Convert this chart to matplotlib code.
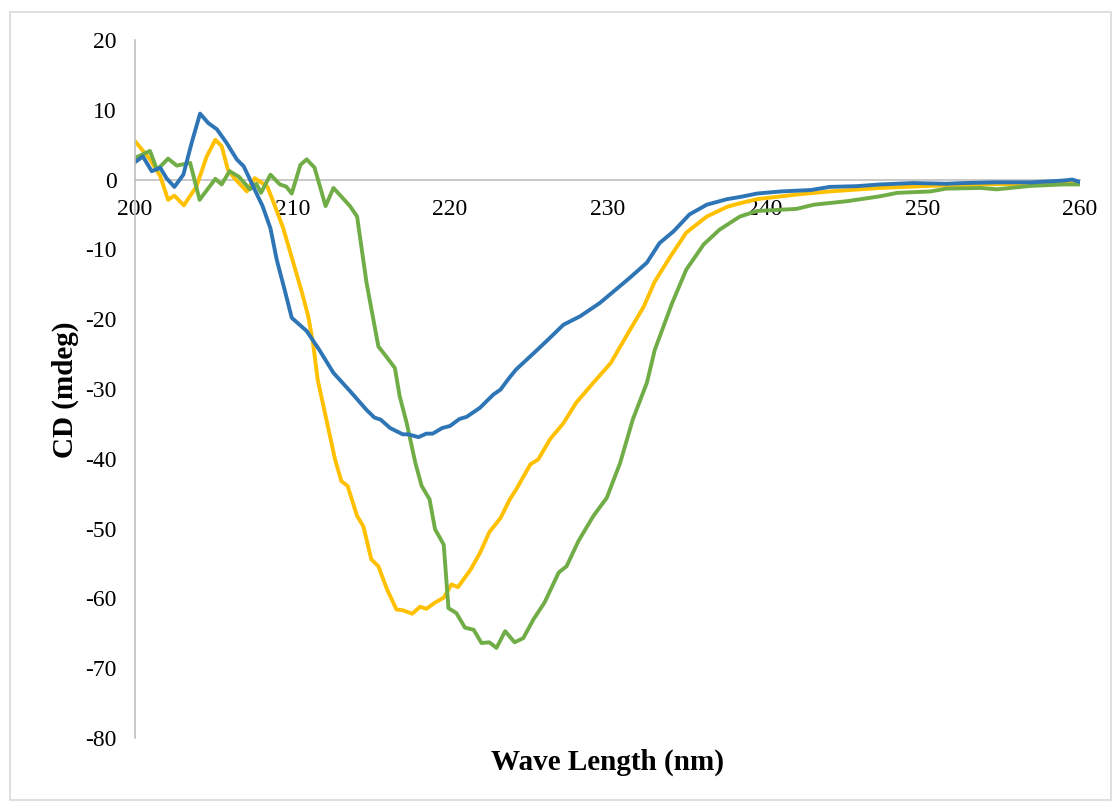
import matplotlib.pyplot as plt
from matplotlib.patches import Rectangle

plt.rcParams['font.family'] = ['Liberation Serif', 'DejaVu Serif']

# CD spectra, wavelength (nm) vs ellipticity (mdeg)
blue_x = [200.0, 200.5, 201.06, 201.6, 202.0, 202.5, 203.07, 203.6, 204.13, 204.65,
          205.2, 205.8, 206.46, 206.9, 207.3, 207.8, 208.1, 208.6, 209.0, 209.5,
          209.95, 210.3, 210.9, 211.7, 212.6, 213.65, 214.7, 215.2, 215.6, 216.2,
          217.0, 217.35, 218.0, 218.5, 218.9, 219.5, 220.0, 220.6, 221.05, 221.9,
          222.75, 223.2, 223.8, 224.2, 225.3, 226.1, 227.2, 228.25, 229.5, 230.4,
          231.4, 232.5, 233.3, 234.2, 235.2, 236.3, 237.6, 238.4, 239.5, 241.0,
          242.9, 244.1, 245.8, 247.3, 249.4, 251.5, 252.6, 254.7, 256.9, 258.9,
          259.5, 260.0]
blue_y = [2.5, 3.3, 1.2, 1.7, 0.2, -1.05, 0.7, 5.3, 9.45, 8.1,
          7.2, 5.3, 2.9, 1.9, 0.0, -2.4, -3.8, -7.0, -11.5, -15.8,
          -19.8, -20.5, -21.7, -24.4, -27.7, -30.3, -33.0, -34.1, -34.4, -35.6,
          -36.5, -36.5, -36.9, -36.4, -36.4, -35.6, -35.3, -34.3, -34.0, -32.7,
          -30.8, -30.1, -28.3, -27.2, -24.9, -23.2, -20.8, -19.6, -17.7, -16.0,
          -14.1, -11.9, -9.1, -7.4, -5.0, -3.6, -2.8, -2.5, -2.0, -1.7,
          -1.5, -1.05, -0.95, -0.7, -0.5, -0.6, -0.5, -0.4, -0.4, -0.15,
          0.0, -0.35]

yellow_x = [200.0, 200.95, 201.6, 202.1, 202.5, 203.1, 203.9, 204.55, 205.1, 205.5,
            205.9, 206.35, 207.1, 207.6, 208.4, 208.8, 209.4, 210.05, 210.6, 211.0,
            211.3, 211.6, 212.2, 212.7, 213.1, 213.5, 214.1, 214.5, 215.0, 215.45,
            216.0, 216.6, 217.0, 217.6, 218.1, 218.5, 219.05, 219.6, 220.1, 220.5,
            221.3, 221.9, 222.5, 223.2, 223.8, 224.2, 225.1, 225.6, 226.35, 227.2,
            228.0, 229.1, 230.2, 231.2, 232.3, 233.0, 234.0, 235.0, 236.3, 237.6,
            238.4, 239.5, 242.0, 244.1, 247.3, 250.5, 253.7, 256.9, 260.0]
yellow_y = [5.5, 2.9, 0.5, -2.9, -2.3, -3.7, -1.0, 3.3, 5.7, 4.8,
            1.4, 0.1, -1.7, 0.2, -1.0, -3.3, -6.9, -11.9, -16.2, -19.6,
            -23.4, -28.7, -34.9, -40.1, -43.2, -43.9, -48.2, -49.7, -54.4, -55.4,
            -58.7, -61.6, -61.7, -62.2, -61.2, -61.5, -60.6, -59.9, -58.0, -58.4,
            -55.9, -53.5, -50.5, -48.5, -45.8, -44.4, -40.8, -40.1, -37.2, -34.9,
            -32.0, -29.1, -26.3, -22.4, -18.2, -14.6, -11.0, -7.6, -5.3, -3.9,
            -3.4, -2.8, -2.15, -1.7, -1.2, -0.9, -0.7, -0.6, -0.5]

green_x = [200.0, 200.95, 201.4, 202.1, 202.65, 203.5, 204.1, 205.1, 205.5, 206.0,
           206.6, 207.3, 207.7, 208.0, 208.6, 209.2, 209.6, 209.95, 210.5, 210.9,
           211.4, 212.1, 212.6, 213.65, 214.1, 214.7, 215.45, 216.0, 216.5, 216.8,
           217.25, 217.8, 218.2, 218.7, 219.05, 219.6, 219.9, 220.4, 220.95, 221.5,
           222.0, 222.5, 222.95, 223.5, 224.1, 224.65, 225.3, 226.0, 226.9, 227.4,
           228.15, 229.1, 229.95, 230.8, 231.6, 232.5, 233.0, 234.1, 235.0, 236.1,
           237.1, 238.4, 239.5, 242.0, 243.1, 245.2, 247.3, 248.4, 250.5, 251.5,
           253.7, 254.7, 256.9, 258.9, 260.0]
green_y = [3.1, 4.1, 1.4, 3.0, 2.0, 2.4, -2.9, 0.1, -0.7, 1.2,
           0.4, -1.4, -0.6, -1.9, 0.7, -0.7, -1.0, -2.0, 2.1, 2.9,
           1.7, -3.8, -1.2, -3.8, -5.3, -14.8, -23.9, -25.5, -27.0, -31.0,
           -34.9, -40.6, -43.9, -45.8, -50.1, -52.3, -61.4, -62.1, -64.2, -64.5,
           -66.4, -66.3, -67.1, -64.7, -66.3, -65.7, -63.0, -60.6, -56.3, -55.4,
           -51.8, -48.2, -45.6, -40.6, -34.4, -29.1, -24.4, -17.7, -12.9, -9.3,
           -7.2, -5.3, -4.5, -4.2, -3.6, -3.1, -2.4, -1.9, -1.7, -1.3,
           -1.2, -1.4, -0.9, -0.7, -0.7]

xticks = [200, 210, 220, 230, 240, 250, 260]
yticks = [20, 10, 0, -10, -20, -30, -40, -50, -60, -70, -80]

fig = plt.figure(figsize=(11.13, 8.01), dpi=100)
ax = fig.add_axes([0.1213, 0.0787, 0.8491, 0.8714])

# chart area outline
fig.patches.append(Rectangle((10 / 1113, 0.001), 1101 / 1113, 788 / 801,
                             transform=fig.transFigure, fill=False,
                             edgecolor='#d9d9d9', linewidth=1.2))

lw = 2.8
style = dict(lw=lw, solid_joinstyle='round', solid_capstyle='round')
ax.plot(yellow_x, yellow_y, color='#FFC000', **style)
ax.plot(green_x, green_y, color='#70AD47', **style)
ax.plot(blue_x, blue_y, color='#2E75B6', **style)

ax.set_xlim(200, 260)
ax.set_ylim(-80, 20)

for s in ['top', 'right']:
    ax.spines[s].set_visible(False)
ax.spines['bottom'].set_position(('data', 0))
ax.spines['bottom'].set_color('#bfbfbf')
ax.spines['left'].set_color('#bfbfbf')
ax.spines['bottom'].set_linewidth(1.2)
ax.spines['left'].set_linewidth(1.2)
ax.spines['bottom'].set_zorder(0.5)

ax.set_xticks(xticks)
ax.set_xticklabels([str(t) for t in xticks])
ax.set_yticks(yticks)
ax.set_yticklabels([str(t) for t in yticks])
ax.tick_params(axis='x', length=0, pad=14, labelsize=17)
ax.tick_params(axis='y', length=0, pad=13, labelsize=17)

fig.text(0.5455, 1 - 762 / 801, 'Wave Length (nm)', ha='center', va='center',
         fontsize=21, fontweight='bold')
fig.text(65 / 1113, 1 - 390 / 801, 'CD (mdeg)', ha='center', va='center',
         rotation=90, fontsize=21, fontweight='bold')

fig.savefig('out.png', dpi=100)
